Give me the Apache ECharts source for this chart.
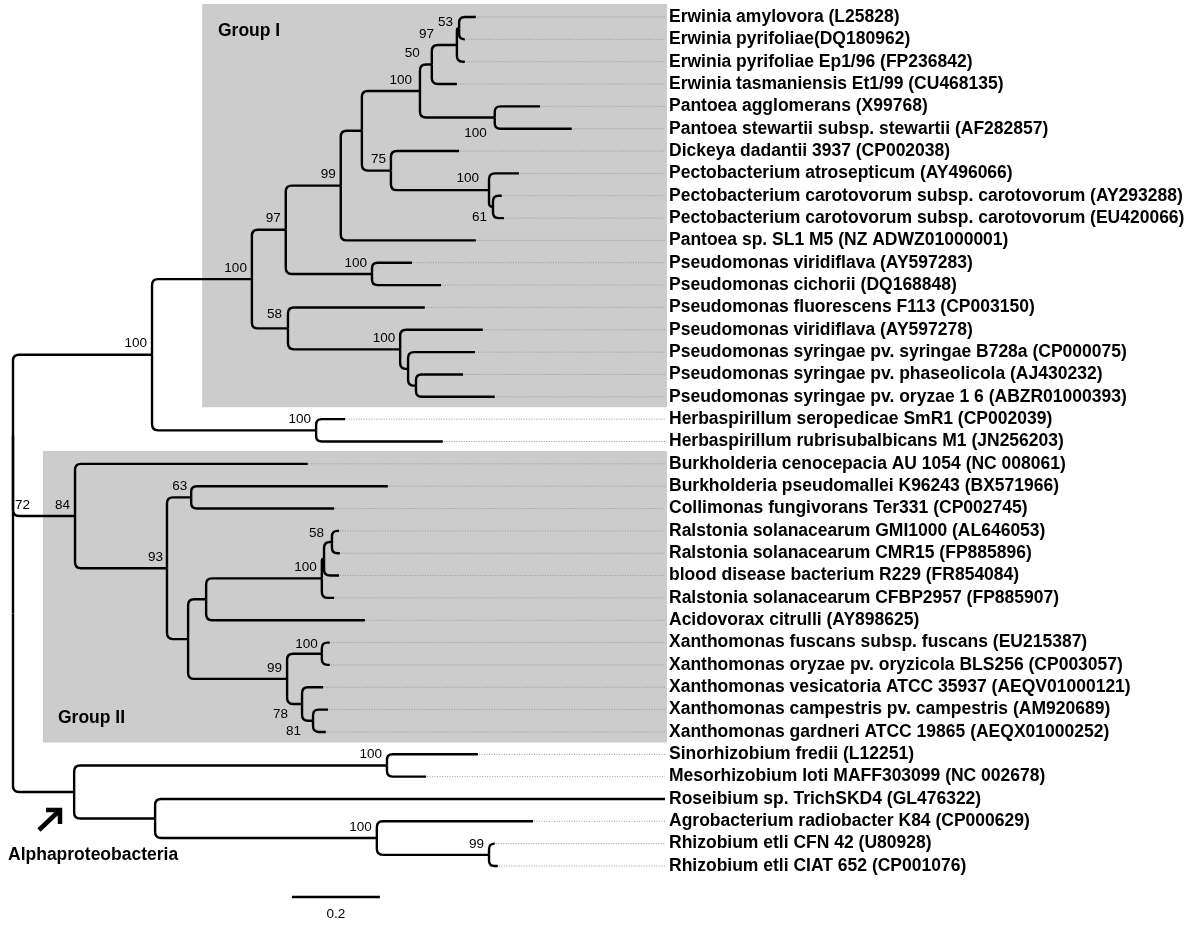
<!DOCTYPE html>
<html><head><meta charset="utf-8">
<script src="https://cdn.jsdelivr.net/npm/echarts@6/dist/echarts.min.js"></script>
<style>html,body{margin:0;padding:0;background:#fff}#c{width:1200px;height:925px}</style>
</head><body><div id="c"></div>
<script>
// ---------- DATA ----------
const leafNames = [
  'Erwinia amylovora (L25828)',
  'Erwinia pyrifoliae(DQ180962)',
  'Erwinia pyrifoliae Ep1/96 (FP236842)',
  'Erwinia tasmaniensis Et1/99 (CU468135)',
  'Pantoea agglomerans (X99768)',
  'Pantoea stewartii subsp. stewartii (AF282857)',
  'Dickeya dadantii 3937 (CP002038)',
  'Pectobacterium atrosepticum (AY496066)',
  'Pectobacterium carotovorum subsp. carotovorum (AY293288)',
  'Pectobacterium carotovorum subsp. carotovorum (EU420066)',
  'Pantoea sp. SL1 M5 (NZ ADWZ01000001)',
  'Pseudomonas viridiflava (AY597283)',
  'Pseudomonas cichorii (DQ168848)',
  'Pseudomonas fluorescens F113 (CP003150)',
  'Pseudomonas viridiflava (AY597278)',
  'Pseudomonas syringae pv. syringae B728a (CP000075)',
  'Pseudomonas syringae pv. phaseolicola (AJ430232)',
  'Pseudomonas syringae pv. oryzae 1 6 (ABZR01000393)',
  'Herbaspirillum seropedicae SmR1 (CP002039)',
  'Herbaspirillum rubrisubalbicans M1 (JN256203)',
  'Burkholderia cenocepacia AU 1054 (NC 008061)',
  'Burkholderia pseudomallei K96243 (BX571966)',
  'Collimonas fungivorans Ter331 (CP002745)',
  'Ralstonia solanacearum GMI1000 (AL646053)',
  'Ralstonia solanacearum CMR15 (FP885896)',
  'blood disease bacterium R229 (FR854084)',
  'Ralstonia solanacearum CFBP2957 (FP885907)',
  'Acidovorax citrulli (AY898625)',
  'Xanthomonas fuscans subsp. fuscans (EU215387)',
  'Xanthomonas oryzae pv. oryzicola BLS256 (CP003057)',
  'Xanthomonas vesicatoria ATCC 35937 (AEQV01000121)',
  'Xanthomonas campestris pv. campestris (AM920689)',
  'Xanthomonas gardneri ATCC 19865 (AEQX01000252)',
  'Sinorhizobium fredii (L12251)',
  'Mesorhizobium loti MAFF303099 (NC 002678)',
  'Roseibium sp. TrichSKD4 (GL476322)',
  'Agrobacterium radiobacter K84 (CP000629)',
  'Rhizobium etli CFN 42 (U80928)',
  'Rhizobium etli CIAT 652 (CP001076)'
];
// distance from root to each tip (substitutions per site)
const leafDepth = [
  1.052, 1.027, 1.027, 1.009, 1.198, 1.270, 1.014, 1.150, 1.111, 1.116,
  1.052, 0.907, 0.973, 0.936, 1.068, 1.050, 1.023, 1.095, 0.755, 0.977,
  0.670, 0.852, 0.730, 0.741, 0.743, 0.741, 0.730, 0.800, 0.720, 0.720,
  0.705, 0.716, 0.711, 1.057, 0.939, 1.482, 1.182, 1.095, 1.102
];
// internal nodes: children are leaf indices (numbers) or node ids (strings)
const nodeIds = ['N53','N97a','N50','Npan','N100a','Npc61','Npc100','N75','Nent','N99',
  'Npv','N97b','Nps3','Nps2','Nps100','N58','NgI','Nherb','N100root',
  'Nr58','Nrsub','Nr100','Nra','Nx100','Nx81','Nx78','Nx99','Nrx','N63','N93','N84','Nbeta',
  'Nsm','Nrh','Nar','Nros','Nalpha','root'];
const nodeDepth = [1.014, 1.009, 0.952, 1.095, 0.925, 1.091, 1.082, 0.859, 0.793, 0.745,
  0.816, 0.620, 0.916, 0.898, 0.880, 0.625, 0.543, 0.689, 0.316,
  0.725, 0.707, 0.702, 0.439, 0.702, 0.682, 0.657, 0.623, 0.398, 0.405, 0.350, 0.141, 0.000,
  0.850, 1.082, 0.827, 0.323, 0.139, 0.000];
const nodeChildren = [[0,1],['N53',2],['N97a',3],[4,5],['N50','Npan'],[8,9],[7,'Npc61'],[6,'Npc100'],['N100a','N75'],['Nent',10],
  [11,12],['N99','Npv'],[16,17],[15,'Nps3'],[14,'Nps2'],[13,'Nps100'],['N97b','N58'],[18,19],['NgI','Nherb'],
  [23,24],['Nr58',25],['Nrsub',26],['Nr100',27],[28,29],[31,32],[30,'Nx81'],['Nx100','Nx78'],['Nra','Nx99'],[21,22],['N63','Nrx'],[20,'N93'],['N100root','N84'],
  [33,34],[37,38],[36,'Nrh'],[35,'Nar'],['Nsm','Nros'],['Nbeta','Nalpha']];
const nodeSupport = [53, 97, 50, 100, 100, 61, 100, 75, null, 99,
  100, 97, null, null, 100, 58, 100, 100, 100,
  58, null, 100, null, 100, 81, 78, 99, null, 63, 93, 84, 72,
  100, 99, 100, null, null, null];
const groupNames = ['Group I', 'Group II'];
const groupFirstLeaf = [0, 20];
const groupLastLeaf = [17, 32];
const scaleBarLength = 0.2;
const cladeName = 'Alphaproteobacteria';

// ---------- LAYOUT (not data) ----------
const X_MAX = 1.482;
const groupStartDepth = [0.43, 0.068];
const scaleBarStart = 0.634;
const supportShift = {N53:[-1,5], N97a:[-18,0], N50:[-7,0], N100a:[-3,0], Npan:[-3,27], Npc100:[-5,-1],
  Npc61:[-1,21], Nx78:[-9,21], Nx81:[-7,22], Nbeta:[22,81], N58:[-1,-3], Nr58:[-3,2], Nx100:[1,2], N63:[1,0], N93:[1,0]};
const FONT = '"Liberation Sans", Arial, Helvetica, sans-serif';

// ---------- build ----------
function nodeIndex(id){ return nodeIds.indexOf(id); }
function depthOf(c){ return typeof c === 'number' ? leafDepth[c] : nodeDepth[nodeIndex(c)]; }
function yOf(c){
  if (typeof c === 'number') return c;
  const ch = nodeChildren[nodeIndex(c)];
  return (yOf(ch[0]) + yOf(ch[ch.length - 1])) / 2;
}
const branchData = [];
const supportData = [];
nodeIds.forEach((id, i) => {
  const py = yOf(id);
  nodeChildren[i].forEach(c => branchData.push([nodeDepth[i], py, depthOf(c), yOf(c)]));
  if (nodeSupport[i] != null) supportData.push([nodeDepth[i], py, nodeSupport[i], i]);
});
const leaderData = leafDepth.map((d, i) => [d, i]).filter(p => p[0] < X_MAX - 0.001);
const groupData = groupNames.map((g, i) => [groupStartDepth[i], groupFirstLeaf[i], groupLastLeaf[i]]);

const chart = echarts.init(document.getElementById('c'), null, {renderer: 'canvas'});
chart.setOption({
  animation: false,
  backgroundColor: '#ffffff',
  grid: {left: 13, right: 535, top: 17, bottom: 59},
  xAxis: {type: 'value', min: 0, max: X_MAX, show: false},
  yAxis: {
    type: 'value', min: 0, max: leafNames.length - 1, interval: 1, inverse: true, position: 'right',
    axisLine: {show: false}, axisTick: {show: false}, splitLine: {show: false},
    axisLabel: {
      show: true, margin: 4, color: '#000', fontWeight: 'bold', fontSize: 17.5, fontFamily: FONT,
      formatter: v => leafNames[v] || '', padding: [0, 0, 3, 0]
    }
  },
  series: [
    {
      type: 'custom', name: 'groups', z: 1, clip: false, silent: true,
      data: groupData,
      renderItem: (params, api) => {
        const a = api.coord([api.value(0), api.value(1) - 0.58]);
        const b = api.coord([X_MAX, api.value(2) + 0.47]);
        return {type: 'rect', shape: {x: a[0], y: a[1], width: b[0] - a[0] + 2, height: b[1] - a[1]},
          style: {fill: '#cccccc'}};
      }
    },
    {
      type: 'custom', name: 'leaders', z: 2, clip: false, silent: true,
      data: leaderData,
      renderItem: (params, api) => {
        const a = api.coord([api.value(0), api.value(1)]);
        const b = api.coord([X_MAX, api.value(1)]);
        return {type: 'line', shape: {x1: a[0] + 1, y1: a[1], x2: b[0], y2: b[1]},
          style: {stroke: '#9a9a9a', lineWidth: 1, lineDash: [1, 1.5]}};
      }
    },
    {
      type: 'custom', name: 'branches', z: 3, clip: false, silent: true,
      data: branchData,
      renderItem: (params, api) => {
        const p = api.coord([api.value(0), api.value(1)]);
        const c = api.coord([api.value(2), api.value(3)]);
        const dy = c[1] - p[1], dx = c[0] - p[0];
        const r = Math.max(0, Math.min(6, Math.abs(dy) / 2, dx));
        const s = dy >= 0 ? 1 : -1;
        let d;
        if (r < 0.8) d = `M${p[0]},${p[1]}L${p[0]},${c[1]}L${c[0]},${c[1]}`;
        else d = `M${p[0]},${p[1]}L${p[0]},${c[1] - s * r}Q${p[0]},${c[1]} ${p[0] + r},${c[1]}L${c[0]},${c[1]}`;
        return {type: 'path', shape: {pathData: d},
          style: {fill: 'none', stroke: '#000', lineWidth: 2.4, lineJoin: 'miter', lineCap: 'butt'}};
      }
    },
    {
      type: 'custom', name: 'support', z: 4, clip: false, silent: true,
      data: supportData,
      renderItem: (params, api) => {
        const p = api.coord([api.value(0), api.value(1)]);
        const sh = supportShift[nodeIds[api.value(3)]] || [0, 0];
        return {type: 'text', x: p[0] - 5 + sh[0], y: p[1] - 11 + sh[1],
          style: {text: String(api.value(2)), fill: '#000', font: '13.5px ' + FONT,
            align: 'right', verticalAlign: 'middle', textAlign: 'right', textVerticalAlign: 'middle'}};
      }
    },
    {
      type: 'custom', name: 'scale', z: 4, clip: false, silent: true,
      data: [[scaleBarStart, scaleBarStart + scaleBarLength]],
      renderItem: (params, api) => {
        const a = api.coord([api.value(0), leafNames.length - 1]);
        const b = api.coord([api.value(1), leafNames.length - 1]);
        const y = a[1] + 31;
        return {type: 'group', children: [
          {type: 'line', shape: {x1: a[0], y1: y, x2: b[0], y2: y}, style: {stroke: '#000', lineWidth: 2.4}},
          {type: 'text', x: (a[0] + b[0]) / 2, y: y + 17,
            style: {text: String(scaleBarLength), fill: '#000', font: '13.5px ' + FONT,
              align: 'center', verticalAlign: 'middle', textAlign: 'center', textVerticalAlign: 'middle'}}
        ]};
      }
    }
  ],
  graphic: [
    {type: 'text', left: 218, top: 22, z: 10, style: {text: groupNames[0], fill: '#000', font: 'bold 17.5px ' + FONT}},
    {type: 'text', left: 58, top: 709, z: 10, style: {text: groupNames[1], fill: '#000', font: 'bold 17.5px ' + FONT}},
    {type: 'text', left: 8, top: 846, z: 10, style: {text: cladeName, fill: '#000', font: 'bold 17.5px ' + FONT}},
    {type: 'polyline', z: 10, shape: {points: [[39, 830], [59, 811]]}, style: {stroke: '#000', lineWidth: 4.5, fill: null}},
    {type: 'polyline', z: 10, shape: {points: [[46, 810], [60, 810], [60, 824]]}, style: {stroke: '#000', lineWidth: 4.5, fill: null, lineJoin: 'miter'}}
  ]
});
</script>
</body></html>
